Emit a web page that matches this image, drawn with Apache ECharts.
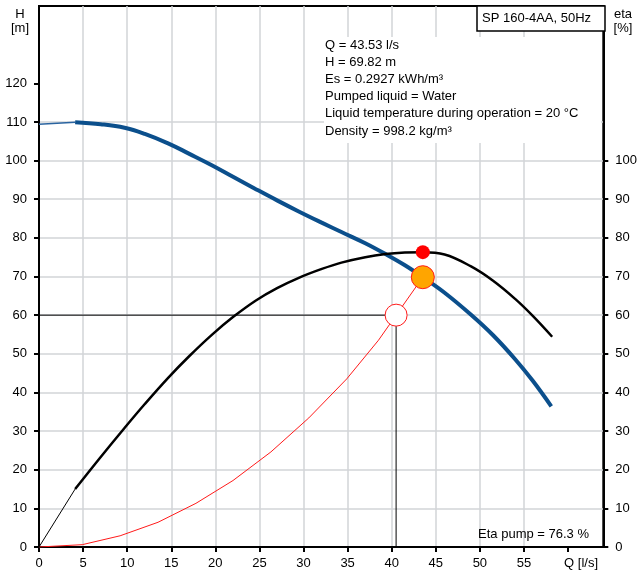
<!DOCTYPE html>
<html>
<head>
<meta charset="utf-8">
<title>SP 160-4AA, 50Hz</title>
<script src="https://cdn.jsdelivr.net/npm/echarts@6/dist/echarts.min.js"></script>
<style>
  html, body { margin: 0; padding: 0; background: #fff; }
  #chart { width: 640px; height: 571px; }
</style>
</head>
<body>
<div id="chart"></div>
<script>
// Pump performance: head H [m] and efficiency eta [%] against flow Q [l/s]
const qTicks = [0, 5, 10, 15, 20, 25, 30, 35, 40, 45, 50, 55, 60];
const hTicks = [0, 10, 20, 30, 40, 50, 60, 70, 80, 90, 100, 110, 120];
const etaTicks = [0, 10, 20, 30, 40, 50, 60, 70, 80, 90, 100];

// Head curve, low-flow section (outside recommended range)
const headLow = [[0, 109.4], [4.1, 109.9]];
// Head curve, working range
const headCurve = [
  [4.1, 109.9], [7, 109.4], [9.7, 108.5], [12, 106.9], [14.7, 104.4], [17, 101.8],
  [19.6, 98.8], [22, 95.8], [24.6, 92.6], [27, 89.7], [29.4, 86.9], [32, 84],
  [34.3, 81.5], [37, 78.6], [39.3, 75.8], [41.5, 72.9], [43.53, 69.82], [46, 65.8],
  [49, 60.1], [51.5, 54.8], [54, 48.6], [56, 43], [58.1, 36.4]
];
// Efficiency curve, low-flow section
const etaLow = [[0, 0], [4.1, 15]];
// Efficiency curve, working range
const etaCurve = [
  [4.1, 15], [7, 23.3], [9.7, 30.8], [12, 37], [14.7, 43.9], [17, 49.3],
  [19.6, 54.9], [22, 59.5], [24.6, 63.8], [27, 67], [29.4, 69.6], [32, 71.9],
  [34.3, 73.6], [37, 75], [39.3, 75.8], [41.5, 76.2], [43.53, 76.3], [46, 75.7],
  [49, 72.6], [51.5, 68.9], [54, 64.2], [56, 59.8], [58.2, 54.4]
];
// System curve through the required point up to the duty point
const systemCurve = [
  [0, 0], [4.9, 0.6], [9.2, 2.9], [13.5, 6.4], [17.8, 11.3], [22, 17.2],
  [26.3, 24.6], [30.6, 33.4], [34.9, 43.5], [38.5, 53.5], [40.5, 60], [43.53, 69.82]
];
// Required point and duty point
const requiredPoint = [40.5, 60];
const dutyPoint = [43.53, 69.82];
const etaPoint = [43.53, 76.3];

const infoLines = [
  'Q = 43.53 l/s',
  'H = 69.82 m',
  'Es = 0.2927 kWh/m³',
  'Pumped liquid = Water',
  'Liquid temperature during operation = 20 °C',
  'Density = 998.2 kg/m³'
];
const pumpName = 'SP 160-4AA, 50Hz';
const etaText = 'Eta pump = 76.3 %';

const FONT = '"Liberation Sans", Arial, sans-serif';
const GRID_COLOR = '#d2d4d7';
const BLUE = '#0b4f8c';

const chart = echarts.init(document.getElementById('chart'), null, { renderer: 'canvas' });

const infoGraphics = infoLines.map((t, i) => ({
  type: 'text', x: 325, y: 45 + i * 17.2, z: 5,
  style: { text: t, font: '13px ' + FONT, fill: '#000', verticalAlign: 'middle' }
}));

function label(text, x, y, align) {
  return {
    type: 'text', x: x, y: y, z: 7,
    style: { text: text, font: '13px ' + FONT, fill: '#000', align: align || 'left', verticalAlign: 'middle' }
  };
}

const axisLine = { show: true, onZero: false, lineStyle: { color: '#000', width: 2 } };
const tickStyle = { color: '#000', width: 2 };
const gridLine = { show: true, showMinLine: false, showMaxLine: false, lineStyle: { color: GRID_COLOR, width: 1.5 } };

chart.setOption({
  animation: false,
  backgroundColor: '#fff',
  grid: {
    left: 39, right: 35, top: 6, bottom: 24,
    show: true, borderColor: '#000', borderWidth: 2, backgroundColor: 'transparent'
  },
  xAxis: {
    type: 'value', min: 0, max: 64, interval: 5,
    axisLine: axisLine,
    axisTick: { show: true, length: 5, lineStyle: tickStyle, customValues: qTicks },
    axisLabel: {
      customValues: qTicks, margin: 10, color: '#000', fontSize: 13, fontFamily: FONT,
      formatter: v => (v === 60 ? '{u|Q [l/s]}' : String(v)),
      rich: { u: { fontSize: 13, fontFamily: FONT, color: '#000', padding: [0, 0, 0, 26] } }
    },
    splitLine: gridLine
  },
  yAxis: [
    {
      type: 'value', min: 0, max: 140, interval: 10, position: 'left',
      axisLine: axisLine,
      axisTick: { show: true, length: 5, lineStyle: tickStyle, customValues: hTicks },
      axisLabel: { customValues: hTicks, margin: 12, color: '#000', fontSize: 13, fontFamily: FONT },
      splitLine: gridLine
    },
    {
      type: 'value', min: 0, max: 140, interval: 10, position: 'right',
      axisLine: axisLine,
      axisTick: { show: true, length: 5, lineStyle: tickStyle, customValues: etaTicks },
      axisLabel: { customValues: etaTicks, margin: 12, color: '#000', fontSize: 13, fontFamily: FONT },
      splitLine: { show: false }
    }
  ],
  graphic: [
    // white panel behind the operating-point data
    { type: 'rect', shape: { x: 324, y: 37, width: 277, height: 106 }, style: { fill: '#fff' }, z: 1 },
    ...infoGraphics,
    { type: 'rect', shape: { x: 477, y: 6, width: 128, height: 25 }, style: { fill: '#fff', stroke: '#000', lineWidth: 1.5 }, z: 6 },
    label(pumpName, 482, 18),
    label('H', 20, 14, 'center'),
    label('[m]', 20, 28, 'center'),
    label('eta', 623, 14, 'center'),
    label('[%]', 623, 28, 'center'),
    label(etaText, 589, 534, 'right')
  ],
  series: [
    {
      type: 'line', data: [[0, requiredPoint[1]], requiredPoint], symbol: 'none', z: 3,
      lineStyle: { color: '#000', width: 1 }
    },
    {
      type: 'line', data: [[requiredPoint[0], 0], requiredPoint], symbol: 'none', z: 3,
      lineStyle: { color: '#000', width: 1 }
    },
    {
      type: 'line', data: systemCurve, symbol: 'none', z: 4,
      lineStyle: { color: '#ff1a1a', width: 1 }
    },
    {
      type: 'line', data: headLow, symbol: 'none', smooth: true, z: 5,
      lineStyle: { color: '#2a64a0', width: 1.5 }
    },
    {
      type: 'line', data: headCurve, symbol: 'none', smooth: 0.4, z: 5,
      lineStyle: { color: BLUE, width: 4 }
    },
    {
      type: 'line', yAxisIndex: 1, data: etaLow, symbol: 'none', z: 5,
      lineStyle: { color: '#000', width: 1 }
    },
    {
      type: 'line', yAxisIndex: 1, data: etaCurve, symbol: 'none', smooth: 0.4, z: 5,
      lineStyle: { color: '#000', width: 2.5 }
    },
    {
      type: 'scatter', data: [requiredPoint], symbol: 'circle', symbolSize: 22, z: 8,
      itemStyle: { color: '#fff', borderColor: '#ff1a1a', borderWidth: 1, opacity: 1 }
    },
    {
      type: 'scatter', data: [dutyPoint], symbol: 'circle', symbolSize: 23, z: 8,
      itemStyle: { color: '#ffa500', borderColor: '#ff1a1a', borderWidth: 1, opacity: 1 }
    },
    {
      type: 'scatter', yAxisIndex: 1, data: [etaPoint], symbol: 'circle', symbolSize: 14, z: 8,
      itemStyle: { color: '#ff0000', opacity: 1 }
    }
  ]
});
</script>
</body>
</html>
